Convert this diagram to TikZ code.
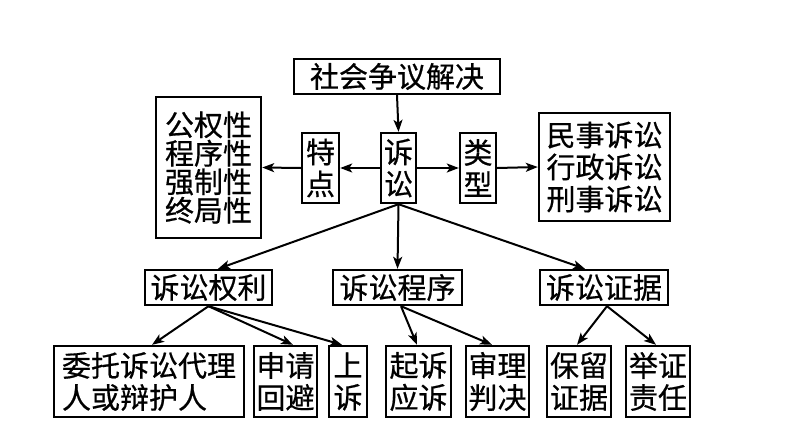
\documentclass[tikz,border=0pt]{standalone}
\usepackage{fontspec}
\setmainfont{Noto Sans CJK SC}[BoldFont={Noto Sans CJK SC},BoldFeatures={FakeBold=0.6}]
\usepackage{tikz}
\usetikzlibrary{arrows,arrows.meta}
\usetikzlibrary{positioning}
\tikzset{
    bx/.style={
           rectangle,
           draw=black, line width=2.4pt,
           inner sep=0pt,
           align=center,
           font=\fontsize{29}{32}\selectfont\bfseries,
           },
}
\tikzset{
    ar/.style={
           line width=2pt,
           -{Stealth[length=12pt,width=9pt,inset=3pt]},
           },
}

\begin{document}
\begin{tikzpicture}[x=1pt,y=-1pt]
\useasboundingbox (0,0) rectangle (794,447);
\node[bx,minimum width=206,minimum height=35](sh) at (397,76.5){社会争议解决};
\node[bx,minimum width=35,minimum height=70](ss) at (398.5,168){诉\\讼};
\node[bx,minimum width=37,minimum height=70](td) at (320.5,168){特\\点};
\node[bx,minimum width=36,minimum height=70](lx) at (478,168){类\\型};
\node[bx,minimum width=105,minimum height=141,font=\fontsize{29}{28.5}\selectfont\bfseries](tz) at (208.5,167.5){公权性\\程序性\\强制性\\终局性};
\node[bx,minimum width=131,minimum height=108](zl) at (604.5,167){民事诉讼\\行政诉讼\\刑事诉讼};
\node[bx,minimum width=127,minimum height=35](ql) at (208.5,287.5){诉讼权利};
\node[bx,minimum width=129,minimum height=35](cx) at (397.5,287.5){诉讼程序};
\node[bx,minimum width=128,minimum height=35](zj) at (604,287.5){诉讼证据};
\node[bx,minimum width=190,minimum height=71](wt) at (149,381.5){委托诉讼代理\\人或辩护人\phantom{人}};
\node[bx,minimum width=63,minimum height=71](sq) at (285.5,381.5){申请\\回避};
\node[bx,minimum width=38,minimum height=71](shs) at (348,381.5){上\\诉};
\node[bx,minimum width=65,minimum height=71](qs) at (418.5,381.5){起诉\\应诉};
\node[bx,minimum width=63,minimum height=71](sl) at (497.5,381.5){审理\\判决};
\node[bx,minimum width=64,minimum height=71](bl) at (579,381.5){保留\\证据};
\node[bx,minimum width=64,minimum height=71](jz) at (658,381.5){举证\\责任};
\draw[ar] (sh.south) -- (ss.north);
\draw[ar] (ss.west) -- (td.east);
\draw[ar] (td.west) -- (tz.east);
\draw[ar] (ss.east) -- (lx.west);
\draw[ar] (lx.east) -- (zl.west);
\draw[ar] (ss.south) -- ([xshift=9.5]ql.north);
\draw[ar] (ss.south) -- (cx.north);
\draw[ar] (ss.south) -- ([xshift=-19]zj.north);
\draw[ar] (ql.south) -- ([xshift=3]wt.north);
\draw[ar] (ql.south) -- ([xshift=7.5]sq.north);
\draw[ar] (ql.south) -- ([xshift=-6]shs.north);
\draw[ar] ([xshift=3.5]cx.south) -- ([xshift=-1.5]qs.north);
\draw[ar] ([xshift=3.5]cx.south) -- ([xshift=-5.5]sl.north);
\draw[ar] ([xshift=3]zj.south) -- ([xshift=-2]bl.north);
\draw[ar] ([xshift=3]zj.south) -- ([xshift=-2]jz.north);
\end{tikzpicture}
\end{document}
